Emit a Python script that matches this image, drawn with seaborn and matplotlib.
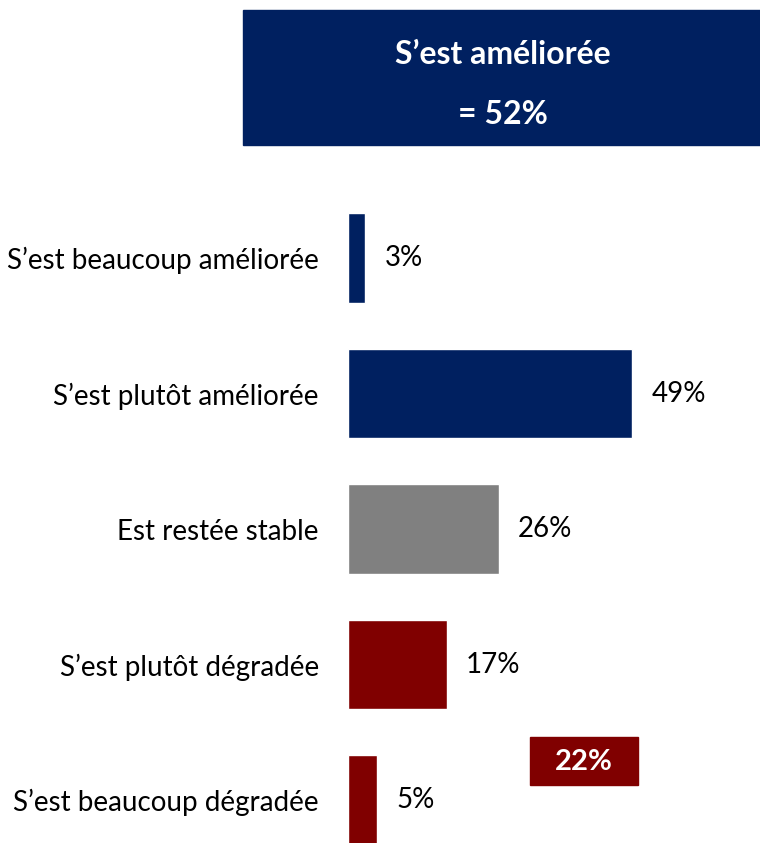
import pandas as pd
import seaborn as sns
import matplotlib.pyplot as plt

categories = ["S’est beaucoup améliorée", "S’est plutôt améliorée", "Est restée stable",
              "S’est plutôt dégradée", "S’est beaucoup dégradée"]
values = [3, 49, 26, 17, 5]
colors = ["#002060", "#002060", "#808080", "#800000", "#800000"]
total_up = 52
total_down = 22

sns.set_theme(style="white")
plt.rcParams['font.family'] = ['Lato', 'DejaVu Sans']

df = pd.DataFrame({"cat": categories, "val": values})

fig = plt.figure(figsize=(7.6, 8.43), dpi=100)
ax = fig.add_axes([0.458, 0.0, 0.542, 1.0])
sns.barplot(data=df, x="val", y="cat", hue="cat", palette=colors, legend=False,
            width=0.66, saturation=1, ax=ax, orient="h")

ax.set_xlim(0, 71)
ax.set_ylim(4.317, -1.904)
ax.set_xlabel("")
ax.set_ylabel("")
ax.set_xticks([])
ax.tick_params(axis="y", length=0, pad=21, labelsize=20, colors="black")
for s in ax.spines.values():
    s.set_visible(False)

for i, v in enumerate(values):
    ax.text(v + 3.3, i, f"{v}%", va="center", ha="left", fontsize=20, color="black")

# summary boxes
fig.patches.append(plt.Rectangle((243 / 760, 1 - 145 / 843), 1.0, 135 / 843,
                                 transform=fig.transFigure, color="#002060", zorder=0))
fig.text(503 / 760, 1 - 55 / 843, "S’est améliorée", ha="center", va="center",
         color="white", fontsize=23, fontweight="bold")
fig.text(503 / 760, 1 - 114 / 843, f"= {total_up}%", ha="center", va="center",
         color="white", fontsize=23, fontweight="bold")

fig.patches.append(plt.Rectangle((530 / 760, 1 - 785 / 843), 108 / 760, 48 / 843,
                                 transform=fig.transFigure, color="#800000", zorder=0))
fig.text(584 / 760, 1 - 762 / 843, f"{total_down}%", ha="center", va="center",
         color="white", fontsize=21, fontweight="bold")

fig.savefig("out.png", dpi=100)
